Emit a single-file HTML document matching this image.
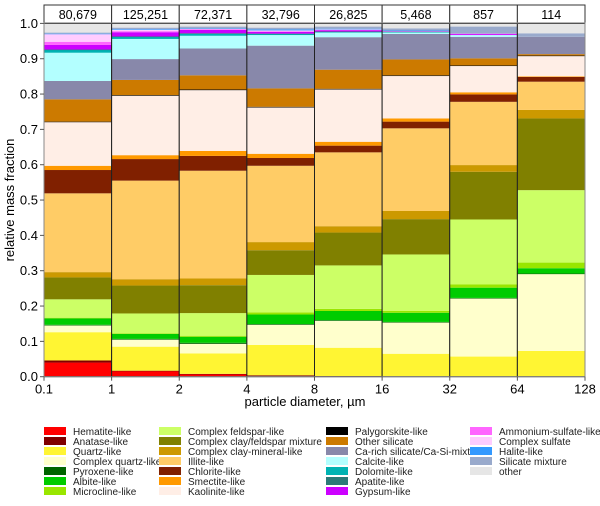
<!DOCTYPE html>
<html><head><meta charset="utf-8"><style>
body{margin:0;background:#fff;font-family:"Liberation Sans",sans-serif;}
svg text{font-family:"Liberation Sans",sans-serif;}
</style></head><body>
<svg id="c" width="600" height="501" xmlns="http://www.w3.org/2000/svg"></svg>
<script>
const edges = ["0.1","1","2","4","8","16","32","64","128"];
const counts = ["80,679","125,251","72,371","32,796","26,825","5,468","857","114"];
const yTicks = ["0.0","0.1","0.2","0.3","0.4","0.5","0.6","0.7","0.8","0.9","1.0"];
const classes = ["Hematite-like","Anatase-like","Quartz-like","Complex quartz-like","Pyroxene-like","Albite-like","Microcline-like","Complex feldspar-like","Complex clay/feldspar mixture","Complex clay-mineral-like","Illite-like","Chlorite-like","Smectite-like","Kaolinite-like","Palygorskite-like","Other silicate","Ca-rich silicate/Ca-Si-mixture","Calcite-like","Dolomite-like","Apatite-like","Gypsum-like","Ammonium-sulfate-like","Complex sulfate","Halite-like","Silicate mixture","other"];
const colors = ["#ff0000","#800000","#fff533","#ffffcc","#006400","#00cc00","#99e600","#ccff66","#808000","#cc9900","#ffcc66","#802000","#ff9900","#ffeee6","#000000","#cc7a00","#8888aa","#b3ffff","#00b3b3","#2b7a78","#cc00ff","#ff66ff","#ffccff","#3399ff","#99aacc","#e6e6e6"];
const bar1 = [.040,.006,.080,.019,.002,.018,.002,.052,.062,.015,.223,.066,.012,.124,.001,.063,.052,.080,.008,.001,.013,.009,.022,.001,.003,.026];
const bar2 = [.016,.001,.068,.020,.002,.014,.002,.056,.079,.018,.279,.061,.011,.168,.002,.043,.059,.057,.006,.001,.012,.003,.004,.002,.004,.012];
const bar3 = [.007,.001,.058,.027,.003,.017,.003,.064,.079,.019,.305,.042,.014,.172,.002,.040,.076,.036,.005,.002,.010,.002,.001,.001,.005,.009];
const bar4 = [.002,.002,.086,.057,.002,.027,.006,.106,.070,.023,.216,.022,.012,.131,.002,.052,.121,.030,.003,.001,.005,.002,.002,.003,.005,.012];
const bar5 = [.001,.001,.080,.076,.002,.026,.006,.123,.093,.018,.209,.019,.011,.148,.002,.054,.092,.014,.001,.001,.004,.001,.001,.002,.006,.009];
const bar6 = [0,.001,.064,.089,.001,.026,.005,.160,.100,.023,.234,.019,.009,.120,.002,.045,.072,.005,.001,.001,.001,0,.001,.001,.006,.014];
const bar7 = [0,0,.057,.165,.001,.029,.009,.184,.135,.019,.179,.021,.006,.075,.001,.020,.061,.005,0,0,.003,.001,0,0,.020,.009];
const bar8 = [0,0,.073,.218,.001,.015,.016,.205,.203,.024,.080,.014,.001,.058,.001,.004,.049,0,0,0,0,0,0,0,.010,.028];
const bars = [bar1,bar2,bar3,bar4,bar5,bar6,bar7,bar8];

const svg = document.getElementById('c');
const NS = "http://www.w3.org/2000/svg";
const X0=44, X1=585, Y0=376.7, YH=353.3;
const xS = i => X0 + (X1-X0)*i/8;
const yS = v => Y0 - v*YH;
function mk(tag, attrs, parent){const e=document.createElementNS(NS,tag);for(const k in attrs)e.setAttribute(k,attrs[k]);(parent||svg).appendChild(e);return e;}

bars.forEach((b,i)=>{
  const g = mk('g',{});
  
  
  let cum=0;
  b.forEach((v,k)=>{
    if(v<=0){return;}
    const r = mk('rect',{x:xS(i),y:yS(cum+v),width:xS(i+1)-xS(i),height:Math.max(v*YH,0.6),fill:colors[k]},g);
    
    
    cum+=v;
  });
  const o = mk('rect',{x:xS(i),y:yS(cum),width:xS(i+1)-xS(i),height:cum*YH,fill:'none',stroke:'#222','stroke-width':1},g);
  
  
  const h = mk('rect',{x:xS(i),y:5,width:xS(i+1)-xS(i),height:18.5,fill:'#fff',stroke:'#333','stroke-width':1});
  
  
  const t = mk('text',{x:(xS(i)+xS(i+1))/2,y:19,'text-anchor':'middle','font-size':12.5,fill:'#000'});
  t.textContent = counts[i];
  
  
});
const fr = mk('rect',{x:X0,y:yS(1.0)-0.5,width:X1-X0,height:Y0-yS(1.0)+0.5,fill:'none',stroke:'#888','stroke-width':1});


yTicks.forEach(l=>{
  const y=yS(parseFloat(l));
  const tk = mk('line',{x1:X0-4,x2:X0,y1:y,y2:y,stroke:'#555'});
  
  
  const t = mk('text',{x:X0-6,y:y+4.5,'text-anchor':'end','font-size':13});
  t.textContent=l;
  
  
});
edges.forEach((l,i)=>{
  const x=xS(i);
  const tk = mk('line',{x1:x,x2:x,y1:Y0,y2:Y0+4,stroke:'#555'});
  
  
  const t = mk('text',{x:x,y:Y0+17,'text-anchor':'middle','font-size':13});
  t.textContent=l;
  
  
});
const yt = mk('text',{x:0,y:0,transform:'translate(14,200) rotate(-90)','text-anchor':'middle','font-size':13});
yt.textContent='relative mass fraction';


const xt = mk('text',{x:305,y:406,'text-anchor':'middle','font-size':13});
xt.textContent='particle diameter, µm';


const colX=[44,159,326,470], perCol=[7,7,7,5];
let idx=0;
colX.forEach((cx,c)=>{
  for(let r=0;r<perCol[c];r++,idx++){
    const y=427+r*10;
    const g = mk('g',{});
    
    
    mk('rect',{x:cx,y:y,width:22,height:8,fill:colors[idx]},g);
    const t = mk('text',{x:cx+29,y:y+8,'font-size':10,fill:'#222'},g);
    t.textContent=classes[idx];
  }
});
</script>
</body></html>
